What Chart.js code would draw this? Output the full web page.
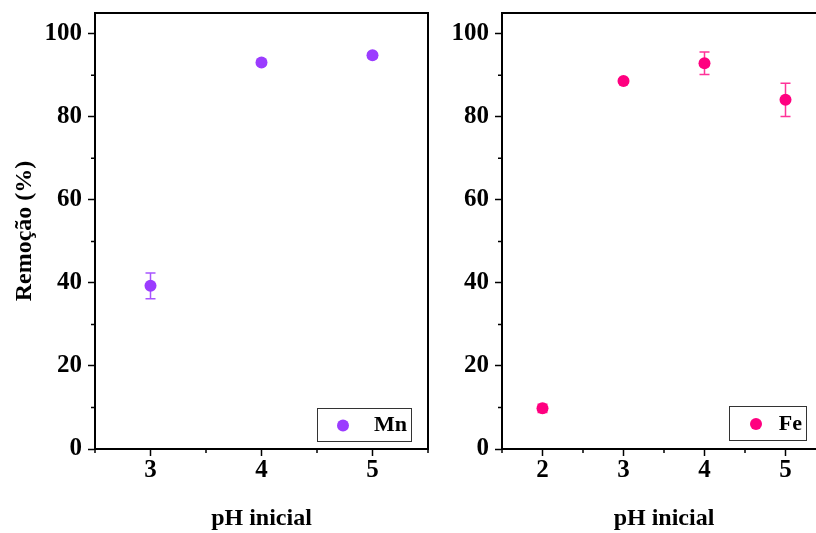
<!DOCTYPE html>
<html>
<head>
<meta charset="utf-8">
<script src="https://cdn.jsdelivr.net/npm/chart.js@4"></script>
<style>
  html, body { margin: 0; padding: 0; background: #fff; overflow: hidden; }
  #wrap { position: relative; width: 816px; height: 533px; overflow: hidden; }
  canvas { position: absolute; top: 0; }
</style>
</head>
<body>
<div id="wrap">
  <canvas id="mnChart" width="440" height="533" style="left:0"></canvas>
  <canvas id="feChart" width="400" height="533" style="left:440px"></canvas>
</div>
<script>
// dados
var mnPH = [3, 4, 5];
var mnRemocao = [39.3, 93.1, 94.8];
var mnErro = [3.1, 0.5, 0.5];

var fePH = [2, 3, 4, 5];
var feRemocao = [9.8, 88.6, 92.9, 84.1];
var feErro = [1.0, 0.5, 2.7, 4.0];

var yTicks = [0, 20, 40, 60, 80, 100];
var yMinor = [10, 30, 50, 70, 90];
var mnXTicks = [3, 4, 5];
var mnXMinor = [2.5, 3.5, 4.5, 5.5];
var feXTicks = [2, 3, 4, 5];
var feXMinor = [1.5, 2.5, 3.5, 4.5, 5.5];

var FONT = "'Liberation Serif', 'Times New Roman', serif";

var extras = {
  id: 'extras',
  beforeDatasetsDraw: function(chart, args, opts) {
    var ctx = chart.ctx, x = chart.scales.x, y = chart.scales.y;
    ctx.save();
    ctx.strokeStyle = opts.errColor;
    ctx.lineWidth = 1.5;
    opts.xs.forEach(function(v, i) {
      var px = x.getPixelForValue(v);
      var top = y.getPixelForValue(opts.ys[i] + opts.err[i]);
      var bot = y.getPixelForValue(opts.ys[i] - opts.err[i]);
      ctx.beginPath();
      ctx.moveTo(px, top); ctx.lineTo(px, bot);
      ctx.moveTo(px - 5, top); ctx.lineTo(px + 5, top);
      ctx.moveTo(px - 5, bot); ctx.lineTo(px + 5, bot);
      ctx.stroke();
    });
    ctx.restore();
  },
  afterDraw: function(chart, args, opts) {
    var ctx = chart.ctx, a = chart.chartArea, x = chart.scales.x, y = chart.scales.y;
    ctx.save();
    // moldura (topo e direita)
    ctx.strokeStyle = '#000';
    ctx.lineWidth = 2;
    ctx.beginPath();
    ctx.moveTo(a.left, a.top); ctx.lineTo(a.right, a.top); ctx.lineTo(a.right, a.bottom);
    ctx.stroke();
    // ticks menores
    ctx.lineWidth = 1.5;
    ctx.beginPath();
    yMinor.forEach(function(v) {
      var py = y.getPixelForValue(v);
      ctx.moveTo(a.left - 4, py); ctx.lineTo(a.left, py);
    });
    opts.xMinor.forEach(function(v) {
      var px = x.getPixelForValue(v);
      ctx.moveTo(px, a.bottom); ctx.lineTo(px, a.bottom + 4);
    });
    ctx.stroke();
    // legenda
    var lg = opts.legend;
    var bx = a.right - lg.inset - lg.w, by = a.bottom - lg.bottom - lg.h;
    ctx.fillStyle = '#fff';
    ctx.fillRect(bx, by, lg.w, lg.h);
    ctx.strokeStyle = '#333';
    ctx.lineWidth = 1;
    ctx.strokeRect(bx + 0.5, by + 0.5, lg.w, lg.h);
    ctx.fillStyle = opts.color;
    ctx.beginPath();
    ctx.arc(bx + lg.mx, by + lg.h / 2 + 1, 6, 0, Math.PI * 2);
    ctx.fill();
    ctx.fillStyle = '#000';
    ctx.font = 'bold 22px ' + FONT;
    ctx.textAlign = 'right';
    ctx.textBaseline = 'middle';
    ctx.fillText(lg.text, bx + lg.w - 4, by + lg.h / 2 + 1);
    ctx.restore();
  }
};

function makeChart(id, xs, ys, errs, color, errColor, xTicks, xMinor, xmin, xmax, yWidth, padRight, yTitle, legend) {
  var pts = xs.map(function(v, i) { return {x: v, y: ys[i]}; });
  return new Chart(id, {
    type: 'scatter',
    data: {
      datasets: [{
        label: legend.text,
        data: pts,
        backgroundColor: color,
        borderWidth: 0,
        pointRadius: 6,
        pointHoverRadius: 6
      }]
    },
    options: {
      responsive: false,
      animation: false,
      layout: { padding: { top: 13, right: padRight, left: 0, bottom: 0 } },
      plugins: {
        legend: { display: false },
        tooltip: { enabled: false },
        extras: { xs: xs, ys: ys, err: errs, errColor: errColor, color: color, xMinor: xMinor, legend: legend }
      },
      scales: {
        x: {
          type: 'linear',
          min: xmin, max: xmax,
          afterBuildTicks: function(s) { s.ticks = xTicks.map(function(v) { return {value: v}; }); },
          afterFit: function(s) { s.height = 84; s.paddingLeft = 0; s.paddingRight = 0; },
          grid: { drawOnChartArea: false, tickLength: 7, tickColor: '#000', tickWidth: 1.5 },
          border: { color: '#000', width: 2 },
          ticks: { color: '#000', padding: 0, font: { family: FONT, weight: 'bold', size: 25 } },
          title: { display: true, text: 'pH inicial', color: '#000', padding: { bottom: 0, top: 0 },
                   font: { family: FONT, weight: 'bold', size: 24 } }
        },
        y: {
          type: 'linear',
          min: 0, max: 105,
          afterBuildTicks: function(s) { s.ticks = yTicks.map(function(v) { return {value: v}; }); },
          afterFit: function(s) { s.width = yWidth; s.paddingTop = 0; s.paddingBottom = 0; },
          grid: { drawOnChartArea: false, tickLength: 7, tickColor: '#000', tickWidth: 1.5 },
          border: { color: '#000', width: 2 },
          ticks: { color: '#000', padding: 6, font: { family: FONT, weight: 'bold', size: 25 } },
          title: { display: yTitle, text: 'Remoção (%)', color: '#000', padding: { top: 10, bottom: 0 },
                   font: { family: FONT, weight: 'bold', size: 24 } }
        }
      }
    },
    plugins: [extras]
  });
}

makeChart('mnChart', mnPH, mnRemocao, mnErro, '#9b3cff', '#a855ff',
  mnXTicks, mnXMinor, 2.5, 5.5, 95, 12, true,
  { text: 'Mn', inset: 17, w: 94, bottom: 8, h: 33, mx: 26 });

makeChart('feChart', fePH, feRemocao, feErro, '#ff0080', '#ff3399',
  feXTicks, feXMinor, 1.5, 5.5, 62, 14, false,
  { text: 'Fe', inset: 20, w: 77, bottom: 9, h: 34, mx: 27 });
</script>
</body>
</html>
